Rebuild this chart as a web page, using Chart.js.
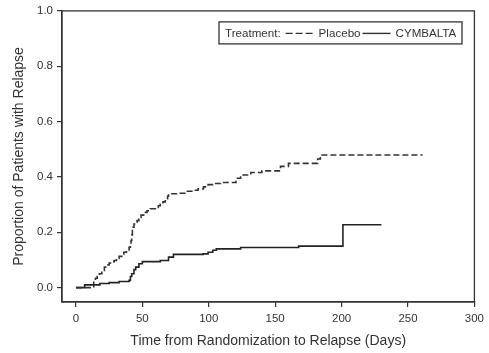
<!DOCTYPE html>
<html>
<head>
<meta charset="utf-8">
<script src="https://cdn.jsdelivr.net/npm/chart.js@4"></script>
<style>
  html, body { margin: 0; padding: 0; background: #fff; }
  #wrap { width: 489px; height: 353px; position: relative; }
</style>
</head>
<body>
<div id="wrap"><canvas id="c" width="489" height="353"></canvas></div>
<script>
// ---- data ----
const placeboDays = [0, 13.4, 14.7, 16, 17.6, 19.5, 21.4, 23, 25, 27, 28.8, 30.5, 32.5, 34.5, 36, 38, 40, 41, 41.5, 42, 42.5, 43, 43.7, 45, 46, 47.4, 49, 51, 53.5, 56, 59.8, 62, 63.5, 65.5, 67.3, 69, 69.7, 77, 83.3, 88, 92, 96, 99.5, 103, 109, 120.5, 124, 131.7, 140, 154, 160, 182, 184, 261];
const placeboVals = [0, 0.03, 0.034, 0.04, 0.05, 0.062, 0.074, 0.082, 0.089, 0.094, 0.098, 0.105, 0.113, 0.12, 0.128, 0.136, 0.146, 0.158, 0.17, 0.19, 0.206, 0.218, 0.23, 0.236, 0.242, 0.254, 0.262, 0.272, 0.278, 0.285, 0.29, 0.296, 0.302, 0.31, 0.32, 0.33, 0.339, 0.341, 0.348, 0.352, 0.357, 0.364, 0.372, 0.376, 0.38, 0.395, 0.407, 0.416, 0.422, 0.438, 0.449, 0.465, 0.479, 0.479];
const cymbaltaDays = [0, 6.5, 18, 25, 32.5, 40, 41, 42, 43.7, 45, 47.4, 50, 63.5, 69.7, 73.4, 95.8, 99.5, 103, 105.7, 124, 167.7, 201, 230];
const cymbaltaVals = [0, 0.01, 0.015, 0.018, 0.022, 0.026, 0.04, 0.05, 0.065, 0.074, 0.086, 0.094, 0.098, 0.11, 0.12, 0.122, 0.128, 0.135, 0.14, 0.145, 0.15, 0.227, 0.227];
const seriesNames = ['Placebo', 'CYMBALTA'];
const legendTitle = 'Treatment:';
const xTicks = [0, 50, 100, 150, 200, 250, 300];
const yTicks = [0, 0.2, 0.4, 0.6, 0.8, 1.0];
const xTitle = 'Time from Randomization to Relapse (Days)';
const yTitle = 'Proportion of Patients with Relapse';

const toPts = (xs, ys) => xs.map((x, i) => ({x: x, y: ys[i]}));
const ink = '#333';
const FONT = 'Liberation Sans, Arial, sans-serif';

const framePlugin = {
  id: 'frame',
  afterDraw(chart) {
    const {ctx, chartArea: a} = chart;
    ctx.save();
    ctx.strokeStyle = ink;
    ctx.lineWidth = 1.3;
    ctx.strokeRect(a.left, a.top, a.right - a.left, a.bottom - a.top);
    // legend box
    const bx = a.left + 157, by = a.top + 11, bw = 243, bh = 22;
    ctx.fillStyle = '#fff';
    ctx.fillRect(bx, by, bw, bh);
    ctx.strokeRect(bx, by, bw, bh);
    ctx.font = '11.6px ' + FONT;
    ctx.fillStyle = ink;
    ctx.textBaseline = 'middle';
    const cy = by + bh / 2 + 0.5;
    let x = bx + 6;
    ctx.fillText(legendTitle, x, cy);
    x += ctx.measureText(legendTitle).width + 5;
    ctx.lineWidth = 1.4;
    ctx.setLineDash([7, 3]);
    ctx.beginPath(); ctx.moveTo(x, cy); ctx.lineTo(x + 27, cy); ctx.stroke();
    x += 33;
    ctx.setLineDash([]);
    ctx.fillText(seriesNames[0], x, cy);
    x += ctx.measureText(seriesNames[0]).width + 2;
    ctx.beginPath(); ctx.moveTo(x, cy); ctx.lineTo(x + 28, cy); ctx.stroke();
    x += 33;
    ctx.fillText(seriesNames[1], x, cy);
    ctx.restore();
  }
};

new Chart(document.getElementById('c'), {
  type: 'line',
  data: {
    datasets: [
      { label: seriesNames[0], data: toPts(placeboDays, placeboVals), stepped: 'before',
        borderColor: ink, borderWidth: 1.6, borderDash: [6, 3], pointRadius: 0, fill: false },
      { label: seriesNames[1], data: toPts(cymbaltaDays, cymbaltaVals), stepped: 'before',
        borderColor: '#222', borderWidth: 1.6, pointRadius: 0, fill: false }
    ]
  },
  options: {
    responsive: false,
    animation: false,
    layout: { padding: { top: 10, right: 10, left: 0, bottom: 0 } },
    plugins: { legend: { display: false }, tooltip: { enabled: false } },
    scales: {
      x: {
        type: 'linear', min: -10.5, max: 300,
        afterBuildTicks: s => { s.ticks = xTicks.map(v => ({value: v})); },
        afterFit: s => { s.height = 51; },
        grid: { display: true, drawOnChartArea: false, drawTicks: true, tickLength: 5, color: ink, lineWidth: 1.2 },
        border: { display: true, color: ink, width: 1.3 },
        ticks: { color: ink, font: { size: 11.5, family: FONT }, padding: 5, maxRotation: 0 },
        title: { display: true, text: xTitle, color: ink, font: { size: 14, family: FONT }, padding: { bottom: 3 } }
      },
      y: {
        type: 'linear', min: -0.052, max: 1.0,
        afterBuildTicks: s => { s.ticks = yTicks.map(v => ({value: v})); },
        afterFit: s => { s.width = 62; },
        grid: { display: true, drawOnChartArea: false, drawTicks: true, tickLength: 5, color: ink, lineWidth: 1.2 },
        border: { display: true, color: ink, width: 1.3 },
        ticks: { color: ink, font: { size: 11.5, family: FONT }, padding: 4, callback: v => v.toFixed(1) },
        title: { display: true, text: yTitle, color: ink, font: { size: 14, family: FONT }, padding: { top: 11 } }
      }
    }
  },
  plugins: [framePlugin]
});
</script>
</body>
</html>
